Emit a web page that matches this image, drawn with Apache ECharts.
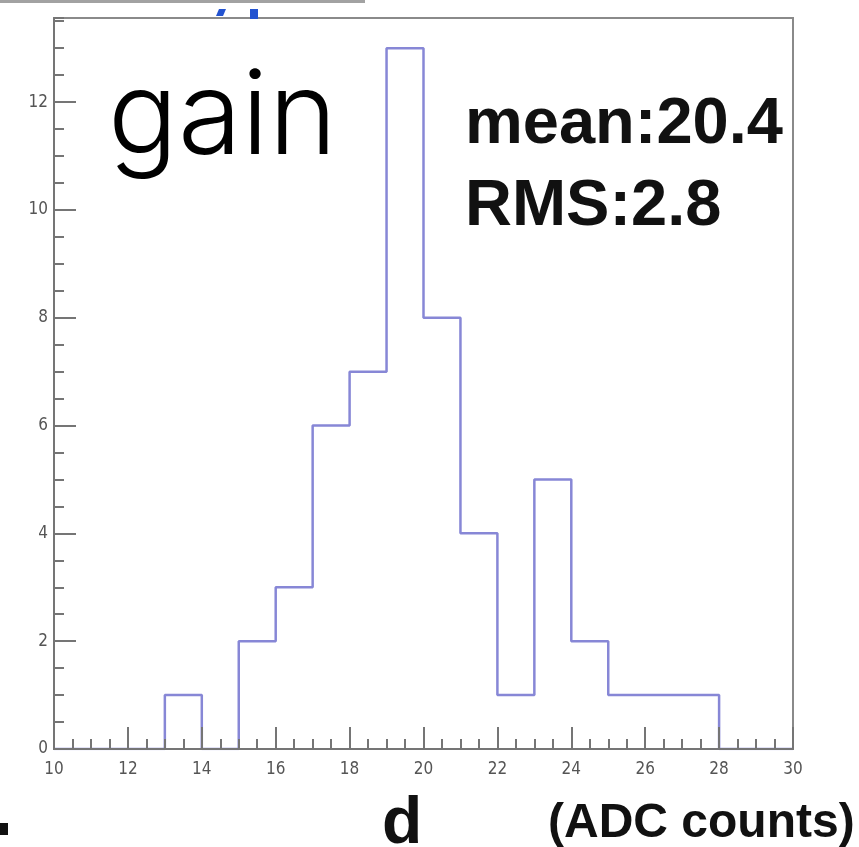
<!DOCTYPE html>
<html>
<head>
<meta charset="utf-8">
<script src="https://cdn.jsdelivr.net/npm/echarts@6/dist/echarts.min.js"></script>
<style>
  html, body { margin: 0; padding: 0; background: #fff; }
  #chart { width: 859px; height: 847px; }
</style>
</head>
<body>
<div id="chart"></div>
<script>
// histogram bins: lower edge of each 1-count-wide bin, and entries per bin
const binLeft = [10, 11, 12, 13, 14, 15, 16, 17, 18, 19, 20, 21, 22, 23, 24, 25, 26, 27, 28, 29];
const counts  = [0, 0, 0, 1, 0, 2, 3, 6, 7, 13, 8, 4, 1, 5, 2, 1, 1, 1, 0, 0];
const lastEdge = 30;

// axis tick labels
const xTickLabels = [10, 12, 14, 16, 18, 20, 22, 24, 26, 28, 30];
const yTickLabels = [0, 2, 4, 6, 8, 10, 12];

// step outline: one point per bin lower edge, closed at the last edge
const stepData = binLeft.map((x, i) => [x, counts[i]]);
stepData.push([lastEdge, 0]);

const axisGray = '#757575';
const labelFont = { color: '#555', fontSize: 17, fontFamily: '"Liberation Sans Narrow", "DejaVu Sans Condensed", sans-serif' };

const chart = echarts.init(document.getElementById('chart'));

const option = {
  animation: false,
  grid: {
    left: 54, top: 18, right: 66, bottom: 98,
    show: true, borderColor: '#8a8a8a', borderWidth: 2, backgroundColor: 'transparent'
  },
  xAxis: [
    {
      type: 'value', min: 10, max: 30, interval: 2, position: 'bottom', z: 5,
      axisLine: { onZero: false, lineStyle: { color: axisGray, width: 2 } },
      axisTick: { inside: true, length: 22, lineStyle: { color: axisGray, width: 2 } },
      axisLabel: {
        ...labelFont, margin: 12,
        formatter: v => xTickLabels.includes(v) ? String(v) : ''
      },
      splitLine: { show: false }
    },
    {
      type: 'value', min: 10, max: 30, interval: 0.5, position: 'bottom', z: 5,
      axisLine: { show: false },
      axisTick: { inside: true, length: 10, lineStyle: { color: axisGray, width: 2 } },
      axisLabel: { show: false },
      splitLine: { show: false }
    }
  ],
  yAxis: [
    {
      type: 'value', min: 0, max: 13.56, interval: 2, position: 'left', z: 5,
      axisLine: { show: true, onZero: false, lineStyle: { color: axisGray, width: 2 } },
      axisTick: { show: true, inside: true, length: 22, lineStyle: { color: axisGray, width: 2 } },
      axisLabel: {
        ...labelFont, margin: 6, showMaxLabel: false,
        formatter: v => yTickLabels.includes(v) ? String(v) : ''
      },
      splitLine: { show: false }
    },
    {
      type: 'value', min: 0, max: 13.56, interval: 0.5, position: 'left', z: 5,
      axisLine: { show: false },
      axisTick: { show: true, inside: true, length: 10, lineStyle: { color: axisGray, width: 2 } },
      axisLabel: { show: false },
      splitLine: { show: false }
    }
  ],
  series: [
    {
      type: 'line',
      step: 'end',
      xAxisIndex: 0,
      yAxisIndex: 0,
      data: stepData,
      symbol: 'none',
      z: 2,
      lineStyle: { color: '#8787d6', width: 2.5 }
    }
  ],
  graphic: [
    // gray bar cut off at the top edge of the picture
    { type: 'rect', left: 0, top: 0, shape: { width: 365, height: 3 }, style: { fill: '#a2a2a2' } },
    // fragments of a blue title cut off at the top
    { type: 'polygon', shape: { points: [[219, 9], [226, 9], [223, 16], [216, 16]] }, style: { fill: '#2353d0' } },
    { type: 'rect', shape: { x: 250, y: 9, width: 8, height: 10 }, style: { fill: '#2353d0' } },
    // small black mark at the bottom-left edge
    { type: 'rect', shape: { x: 0, y: 823, width: 8, height: 12 }, style: { fill: '#111' } },
    {
      type: 'text', z: 10,
      style: { text: 'gain', x: 108, y: 119, verticalAlign: 'middle', fill: '#000',
        font: '300 116px Inter, "Noto Sans", sans-serif' }
    },
    {
      type: 'text', z: 10,
      style: { text: 'mean:20.4', x: 465, y: 125, verticalAlign: 'middle', fill: '#111',
        font: 'bold 65px "Liberation Sans", Arial, sans-serif' }
    },
    {
      type: 'text', z: 10,
      style: { text: 'RMS:2.8', x: 465, y: 207, verticalAlign: 'middle', fill: '#111',
        font: 'bold 65px "Liberation Sans", Arial, sans-serif' }
    },
    {
      type: 'text', z: 10,
      style: { text: 'd', x: 382, y: 825, verticalAlign: 'middle', fill: '#111',
        font: 'bold 66px "Liberation Sans", Arial, sans-serif' }
    },
    {
      type: 'text', z: 10,
      style: { text: '(ADC counts)', x: 548, y: 824, verticalAlign: 'middle', fill: '#111',
        font: 'bold 48px "Liberation Sans", Arial, sans-serif' }
    }
  ]
};

chart.setOption(option);
</script>
</body>
</html>
